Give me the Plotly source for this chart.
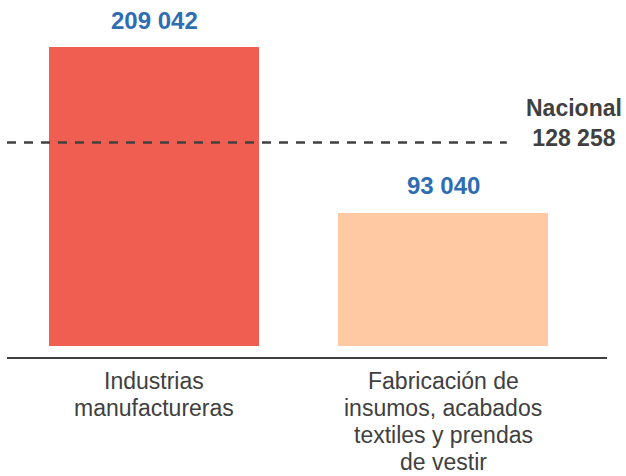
import plotly.graph_objects as go

# datos
categorias = ["Industrias manufactureras", "Fabricación de insumos, acabados textiles y prendas de vestir"]
etiquetas_lineas = [["Industrias", "manufactureras"],
                    ["Fabricación de", "insumos, acabados", "textiles y prendas", "de vestir"]]
valores = [209042, 93040]
colores = ["#F05E51", "#FFC9A3"]
nacional = 128258
# en el gráfico original la línea punteada queda a esta altura de la escala de las barras
nacional_linea = 142200

def fmt(v):
    return f"{v:,}".replace(",", " ")

fig = go.Figure()
fig.add_trace(go.Bar(x=categorias, y=valores, marker_color=colores,
                     marker_line_width=0, width=0.726, hoverinfo="skip"))

# línea nacional
fig.add_shape(type="line", xref="paper", yref="y", x0=0, x1=0.833,
              y0=nacional_linea, y1=nacional_linea,
              line=dict(color="#404040", width=2.5, dash="9px,8px"))

fig.add_annotation(xref="paper", yref="y", x=0.945, y=nacional_linea,
                   text=f"<b>Nacional<br>{fmt(nacional)}</b>", showarrow=False,
                   xanchor="center", yanchor="middle", yshift=20,
                   font=dict(size=23, color="#404040"))

# valores sobre las barras
for c, v in zip(categorias, valores):
    fig.add_annotation(x=c, y=v, text=f"<b>{fmt(v)}</b>", showarrow=False,
                       yanchor="middle", yshift=27,
                       font=dict(size=24, color="#2F6DB3"))

# etiquetas de categoría, una anotación por renglón para controlar el interlineado
for c, lineas in zip(categorias, etiquetas_lineas):
    for i, t in enumerate(lineas):
        fig.add_annotation(x=c, xref="x", yref="paper", y=0, text=t, showarrow=False,
                           yanchor="middle", yshift=-24 - 27 * i,
                           font=dict(size=23, color="#404040"))

fig.update_layout(
    width=626, height=476,
    margin=dict(l=7, r=19, t=0, b=119),
    plot_bgcolor="white", paper_bgcolor="white",
    showlegend=False, bargap=0,
    font=dict(family="Liberation Sans, Arial, sans-serif"),
)
fig.update_xaxes(range=[-0.509, 1.566], showticklabels=False, ticks="",
                 showgrid=False, zeroline=False,
                 showline=True, linecolor="#404040", linewidth=2)
fig.update_yaxes(range=[-8060, 242120], visible=False, showgrid=False, zeroline=False)

fig.write_html("out.html", config={"displayModeBar": False},
               post_script="document.body.style.margin='0';document.body.style.overflow='hidden';")
